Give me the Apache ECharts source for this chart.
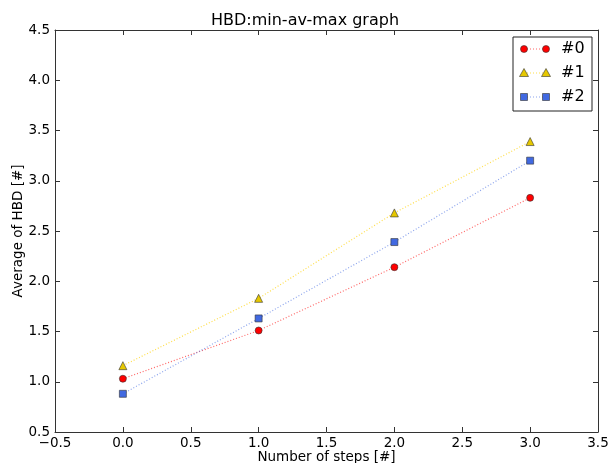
<!DOCTYPE html>
<html><head><meta charset="utf-8">
<script src="https://cdn.jsdelivr.net/npm/echarts@6/dist/echarts.min.js"></script>
<style>html,body{margin:0;padding:0;background:#fff}#c{width:610px;height:463px}</style>
</head><body><div id="c"></div>
<script>
const steps = [0, 1, 2, 3];
const series0 = [1.03, 1.51, 2.14, 2.83];
const series1 = [1.16, 1.83, 2.68, 3.39];
const series2 = [0.88, 1.63, 2.39, 3.20];
const names = ['#0', '#1', '#2'];
const xTicks = [-0.5, 0.0, 0.5, 1.0, 1.5, 2.0, 2.5, 3.0, 3.5];
const yTicks = [0.5, 1.0, 1.5, 2.0, 2.5, 3.0, 3.5, 4.0, 4.5];

const font = 'DejaVu Sans';
const colors = ['#ff0000', '#e6c800', '#4169e1'];
const lineColors = ['rgba(255,0,0,0.6)', 'rgba(255,210,0,0.7)', 'rgba(65,105,225,0.6)'];
const symbols = ['circle', 'triangle', 'rect'];
const symSizes = [7, 8, 7];
const data = [series0, series1, series2];

const chart = echarts.init(document.getElementById('c'));
const axisLine = {show: true, onZero: false, lineStyle: {color: '#333', width: 1}};
const tick = {show: true, inside: true, length: 5, lineStyle: {color: '#333'}};
const fmt = v => v.toFixed(1).replace('-', '\u2212');

const legendGraphics = [{
  type: 'rect', shape: {x: 513, y: 37, width: 79, height: 74},
  style: {fill: '#fff', stroke: '#222', lineWidth: 1}, z: 100
}];
const legendY = [49, 73, 97];
for (let i = 0; i < 3; i++) {
  const y = legendY[i];
  legendGraphics.push({type: 'line', shape: {x1: 524, y1: y, x2: 546, y2: y},
    style: {stroke: lineColors[i], lineWidth: 1.2, lineDash: [1, 2]}, z: 101});
  for (const x of [524, 546]) {
    let shape;
    if (i === 0) shape = {type: 'circle', shape: {cx: x, cy: y, r: 3.5}};
    else if (i === 1) shape = {type: 'polygon', shape: {points: [[x, y - 4.5], [x - 4.5, y + 3.5], [x + 4.5, y + 3.5]]}};
    else shape = {type: 'rect', shape: {x: x - 3.5, y: y - 3.5, width: 7, height: 7}};
    shape.style = {fill: colors[i], stroke: '#333', lineWidth: 0.6};
    shape.z = 102;
    legendGraphics.push(shape);
  }
  legendGraphics.push({type: 'text', x: 561, y: y, z: 102,
    style: {text: names[i], font: '16px "DejaVu Sans"', fill: '#000', verticalAlign: 'middle'}});
}

chart.setOption({
  animation: false,
  textStyle: {fontFamily: font},
  title: {text: 'HBD:min-av-max graph', left: 'center', top: 8,
    textStyle: {fontFamily: font, fontSize: 16, fontWeight: 'normal', color: '#000'}},
  grid: {left: 55, right: 12, top: 30, bottom: 31, containLabel: false, outerBoundsMode: 'none'},
  xAxis: [{
    type: 'value', min: -0.5, max: 3.5, interval: 0.5,
    name: 'Number of steps [#]', nameLocation: 'middle', nameGap: 18, nameMoveOverlap: false,
    nameTextStyle: {fontFamily: font, fontSize: 13.5, color: '#000'},
    axisLine, axisTick: tick, splitLine: {show: false},
    axisLabel: {fontFamily: font, fontSize: 13.5, color: '#000', margin: 4, formatter: fmt,
      showMinLabel: true, showMaxLabel: true}
  }, {
    type: 'value', position: 'top', min: -0.5, max: 3.5, interval: 0.5,
    axisLine, axisTick: tick, axisLabel: {show: false}, splitLine: {show: false}
  }],
  yAxis: [{
    type: 'value', min: 0.5, max: 4.5, interval: 0.5,
    name: 'Average of HBD [#]', nameLocation: 'middle', nameGap: 30, nameMoveOverlap: false,
    nameTextStyle: {fontFamily: font, fontSize: 13.5, color: '#000'},
    axisLine, axisTick: tick, splitLine: {show: false},
    axisLabel: {fontFamily: font, fontSize: 13.5, color: '#000', margin: 5, formatter: fmt,
      showMinLabel: true, showMaxLabel: true}
  }, {
    type: 'value', position: 'right', min: 0.5, max: 4.5, interval: 0.5,
    axisLine, axisTick: tick, axisLabel: {show: false}, splitLine: {show: false}
  }],
  series: data.map((d, i) => ({
    name: names[i], type: 'line',
    data: steps.map((s, j) => [s, d[j]]),
    symbol: symbols[i], symbolSize: symSizes[i],
    itemStyle: {color: colors[i], borderColor: '#333', borderWidth: 0.6},
    lineStyle: {color: lineColors[i], width: 1.2, type: [1, 2]},
    showAllSymbol: true
  })),
  graphic: legendGraphics
});
</script>
</body></html>
